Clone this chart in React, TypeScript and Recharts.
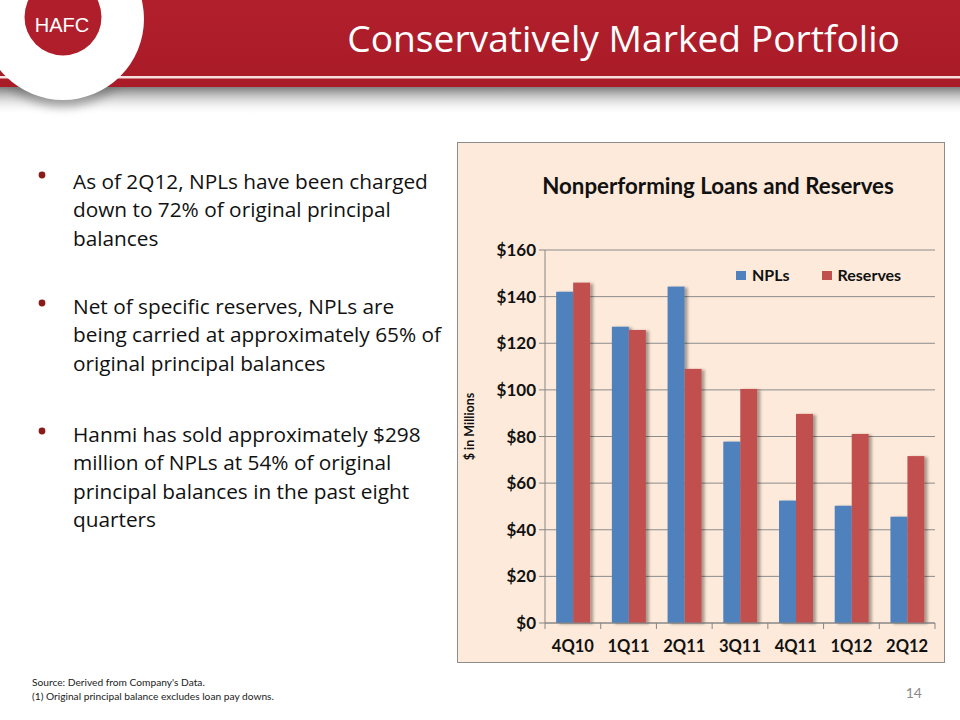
import React from 'react';
import { BarChart, Bar, XAxis, YAxis, CartesianGrid, Legend } from 'recharts';

const quarters = ['4Q10', '1Q11', '2Q11', '3Q11', '4Q11', '1Q12', '2Q12'];
const nplValues = [142.1, 127.1, 144.3, 77.8, 52.5, 50.3, 45.6];
const reserveValues = [146.0, 125.7, 109.0, 100.4, 89.7, 81.1, 71.6];
const yTicks = [0, 20, 40, 60, 80, 100, 120, 140, 160];
const seriesNames = ['NPLs', 'Reserves'];
const seriesColors = ['#4F81BD', '#C0504D'];
const chartTitle = 'Nonperforming Loans and Reserves';
const yAxisTitle = '$ in Millions';
const slideTitle = 'Conservatively Marked Portfolio';
const bulletLines = [
  ['As of 2Q12, NPLs have been charged', 'down to 72% of original principal', 'balances'],
  ['Net of specific reserves, NPLs are', 'being carried at approximately 65% of', 'original principal balances'],
  ['Hanmi has sold approximately $298', 'million of NPLs at 54% of original', 'principal balances in the past eight', 'quarters'],
];
const footnotes = ["Source: Derived from Company's Data.", '(1) Original principal balance excludes loan pay downs.'];
const pageNumber = '14';

const data = quarters.map((q, i) => ({ q, npl: nplValues[i], res: reserveValues[i] }));

const FONT = 'Lato, "Open Sans", sans-serif';
const BODY_FONT = '"Open Sans", Lato, sans-serif';
const AXIS_GRAY = '#868686';
const RED = '#B01E2B';

const ShadowBar = (p: any) => (
  <rect x={p.x} y={p.y} width={p.width} height={p.height} fill={p.fill} filter="url(#barShadow)" />
);

const XTick = (props: any) => {
  const { x, y, payload, index } = props;
  const n = props.visibleTicksCount || quarters.length;
  const band = (props.width || 390) / n;
  const axisY = y;
  return (
    <g>
      {index === 0 && (
        <line x1={x - band / 2} x2={x - band / 2} y1={axisY} y2={axisY + 6} stroke={AXIS_GRAY} />
      )}
      <line x1={x + band / 2} x2={x + band / 2} y1={axisY} y2={axisY + 6} stroke={AXIS_GRAY} />
      <text x={x} y={axisY + 29} textAnchor="middle" fontFamily={FONT} fontWeight={700} fontSize={16.5} fill="#111">
        {payload.value}
      </text>
    </g>
  );
};

const YLabel = (props: any) => {
  const vb = props.viewBox || { x: 0, y: 108, height: 373 };
  const cx = vb.x + 12;
  const cy = vb.y + vb.height / 2 - 10;
  return (
    <text
      x={cx}
      y={cy}
      transform={`rotate(-90 ${cx} ${cy})`}
      textAnchor="middle"
      dominantBaseline="central"
      fontFamily={FONT}
      fontWeight={700}
      fontSize={12.5}
      fill="#111"
    >
      {yAxisTitle}
    </text>
  );
};

const LegendBox = (props: any) => {
  const payload = props.payload || [];
  return (
    <div style={{ display: 'flex', alignItems: 'center', fontFamily: FONT, fontWeight: 700, fontSize: 16, color: '#111', lineHeight: '18px' }}>
      {payload.map((e: any, i: number) => (
        <div key={i} style={{ display: 'flex', alignItems: 'center', marginRight: i === 0 ? 32 : 0 }}>
          <div style={{ width: 10, height: 9, background: e.color, marginRight: 6 }} />
          <span>{e.value}</span>
        </div>
      ))}
    </div>
  );
};

export default function App() {
  return (
    <div style={{ position: 'absolute', left: 0, top: 0, width: 960, height: 720, background: '#fff', overflow: 'hidden' }}>
      <svg width={960} height={720} style={{ position: 'absolute', left: 0, top: 0 }}>
        <defs>
          <linearGradient id="hdrShadow" x1="0" y1="0" x2="0" y2="1">
            <stop offset="0" stopColor="#707070" stopOpacity={0.9} />
            <stop offset="1" stopColor="#ffffff" stopOpacity={0} />
          </linearGradient>
          <linearGradient id="hdrRed" x1="0" y1="0" x2="0" y2="1">
            <stop offset="0" stopColor="#B21F2C" />
            <stop offset="1" stopColor="#A81B27" />
          </linearGradient>
          <filter id="ringBlur" x="-50%" y="-50%" width="200%" height="200%">
            <feGaussianBlur stdDeviation="5" />
          </filter>
        </defs>
        <rect x={0} y={87} width={960} height={28} fill="url(#hdrShadow)" />
        <circle cx={63} cy={26} r={81} fill="#6e6e6e" opacity={0.55} filter="url(#ringBlur)" />
        <rect x={0} y={0} width={960} height={87} fill="url(#hdrRed)" />
        <rect x={0} y={76} width={960} height={2.5} fill="#F6E0E0" />
        <circle cx={63} cy={19} r={81} fill="#ffffff" />
        <circle cx={63} cy={17} r={38.5} fill={RED} />
        <text x={62} y={32} textAnchor="middle" fontFamily='"Liberation Sans", Arial, sans-serif' fontSize={20} fill="#fff">
          HAFC
        </text>
        <text
          x={900}
          y={52}
          textAnchor="end"
          fontFamily={BODY_FONT}
          fontSize={37.2}
          fill="#fff"
          style={{ fontVariantLigatures: 'none' }}
        >
          {slideTitle}
        </text>

        {bulletLines.map((lines, bi) => {
          const baselines = [189, 314, 442];
          const dots = [175, 303, 431];
          return (
            <g key={bi}>
              <circle cx={42} cy={dots[bi]} r={3.4} fill="#8B1A1A" />
              {lines.map((l, li) => (
                <text key={li} x={73} y={baselines[bi] + li * 28.3} fontFamily={BODY_FONT} fontSize={20.8} fill="#111">
                  {l}
                </text>
              ))}
            </g>
          );
        })}

        {footnotes.map((f, i) => (
          <text key={i} x={32} y={686 + i * 14} fontFamily={FONT} fontSize={10.2} fill="#222">
            {f}
          </text>
        ))}
        <text x={922} y={698} textAnchor="end" fontFamily={FONT} fontSize={14} fill="#8a8a8a">
          {pageNumber}
        </text>
      </svg>

      <div
        style={{
          position: 'absolute',
          left: 457,
          top: 142,
          width: 488,
          height: 521,
          background: '#FDEADA',
          outline: '1px solid #8C8C8C',
          outlineOffset: -1,
        }}
      >
        <div
          style={{
            position: 'absolute',
            left: 0,
            top: 30,
            width: 522,
            textAlign: 'center',
            fontFamily: FONT,
            fontWeight: 700,
            fontSize: 22.3,
            color: '#111',
            whiteSpace: 'nowrap',
          }}
        >
          {chartTitle}
        </div>
        <BarChart
          width={488}
          height={521}
          data={data}
          margin={{ top: 108, right: 10, bottom: 0, left: 0 }}
          barCategoryGap="20%"
          barGap={0}
          style={{ position: 'absolute', left: 0, top: 0 }}
        >
          <defs>
            <filter id="barShadow" x="-20%" y="-5%" width="160%" height="115%">
              <feDropShadow dx={3} dy={1} stdDeviation={1.4} floodColor="#000" floodOpacity={0.35} />
            </filter>
          </defs>
          <CartesianGrid vertical={false} stroke="#8C8C8C" />
          <XAxis
            dataKey="q"
            height={40}
            tickSize={0}
            tickMargin={0}
            tickLine={false}
            axisLine={{ stroke: AXIS_GRAY }}
            tick={<XTick />}
            interval={0}
          />
          <YAxis
            width={88}
            domain={[0, 160]}
            ticks={yTicks}
            tickSize={6}
            tickMargin={3}
            tickLine={{ stroke: AXIS_GRAY }}
            axisLine={{ stroke: AXIS_GRAY }}
            tickFormatter={(v: number) => `$${v}`}
            tick={{ fontFamily: FONT, fontWeight: 700, fontSize: 17, fill: '#111' }}
            label={<YLabel />}
          />
          <YAxis
            yAxisId="right"
            orientation="right"
            width={0}
            tick={false}
            tickLine={false}
            axisLine={{ stroke: AXIS_GRAY }}
            domain={[0, 160]}
          />
          <Legend
            layout="horizontal"
            verticalAlign="middle"
            align="center"
            content={<LegendBox />}
            wrapperStyle={{ position: 'absolute', left: 279, top: 124, width: 'auto', height: 'auto' }}
          />
          <Bar dataKey="npl" name={seriesNames[0]} fill={seriesColors[0]} shape={<ShadowBar />} isAnimationActive={false} />
          <Bar dataKey="res" name={seriesNames[1]} fill={seriesColors[1]} shape={<ShadowBar />} isAnimationActive={false} />
        </BarChart>
      </div>
    </div>
  );
}
